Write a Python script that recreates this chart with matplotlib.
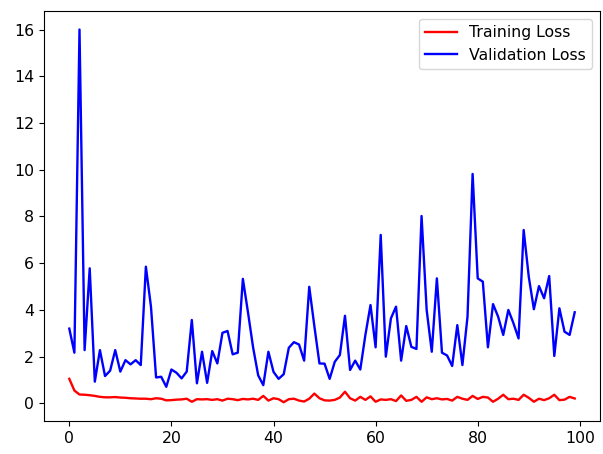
import matplotlib
matplotlib.use("Agg")
import matplotlib.pyplot as plt

# ── Data ──────────────────────────────────────────────────────────────────────

epochs = list(range(100))

train_loss = [
    1.05, 0.55, 0.38, 0.37, 0.35, 0.32, 0.28, 0.26, 0.26, 0.27,
    0.25, 0.24, 0.22, 0.21, 0.20, 0.20, 0.18, 0.22, 0.20, 0.13,
    0.14, 0.16, 0.17, 0.20, 0.07, 0.18, 0.17, 0.18, 0.15, 0.18,
    0.12, 0.20, 0.18, 0.14, 0.19, 0.17, 0.20, 0.15, 0.32, 0.12,
    0.22, 0.18, 0.05, 0.18, 0.20, 0.12, 0.08, 0.20, 0.42, 0.22,
    0.13, 0.12, 0.15, 0.25, 0.50, 0.22, 0.12, 0.28, 0.15, 0.30,
    0.07, 0.17, 0.15, 0.18, 0.10, 0.34, 0.11, 0.15, 0.28, 0.07,
    0.26, 0.18, 0.22, 0.17, 0.19, 0.12, 0.28, 0.20, 0.15, 0.32,
    0.19, 0.28, 0.25, 0.07, 0.20, 0.37, 0.18, 0.20, 0.15, 0.37,
    0.24, 0.07, 0.20, 0.14, 0.22, 0.37, 0.14, 0.16, 0.28, 0.21,
]

val_loss = [
    3.20, 2.17, 16.0, 2.28, 5.78, 0.93, 2.28, 1.17, 1.40, 2.28,
    1.36, 1.85, 1.67, 1.85, 1.64, 5.85, 4.14, 1.11, 1.14, 0.71,
    1.45, 1.31, 1.07, 1.36, 3.57, 0.86, 2.21, 0.88, 2.24, 1.71,
    3.02, 3.10, 2.10, 2.17, 5.33, 3.90, 2.40, 1.20, 0.78, 2.21,
    1.35, 1.05, 1.25, 2.38, 2.62, 2.52, 1.83, 4.99, 3.31, 1.71,
    1.70, 1.05, 1.78, 2.07, 3.75, 1.43, 1.83, 1.45, 2.93, 4.21,
    2.40, 7.21, 2.00, 3.64, 4.14, 1.83, 3.31, 2.42, 2.33, 8.02,
    4.00, 2.21, 5.35, 2.17, 2.05, 1.60, 3.35, 1.64, 3.71, 9.82,
    5.35, 5.21, 2.40, 4.25, 3.71, 2.93, 4.00, 3.43, 2.78, 7.42,
    5.42, 4.03, 5.02, 4.50, 5.45, 2.03, 4.07, 3.07, 2.93, 3.90,
]

# ── Plot ──────────────────────────────────────────────────────────────────────

plt.rcParams["font.size"] = 11.3

fig = plt.figure(figsize=(6.03, 4.54), dpi=100)
ax = fig.add_axes([0.073, 0.073, 0.922, 0.903])

ax.plot(epochs, train_loss, color="red", lw=1.7, label="Training Loss")
ax.plot(epochs, val_loss, color="blue", lw=1.7, label="Validation Loss")
ax.legend(loc="upper right")

fig.savefig("out.png", dpi=100)
